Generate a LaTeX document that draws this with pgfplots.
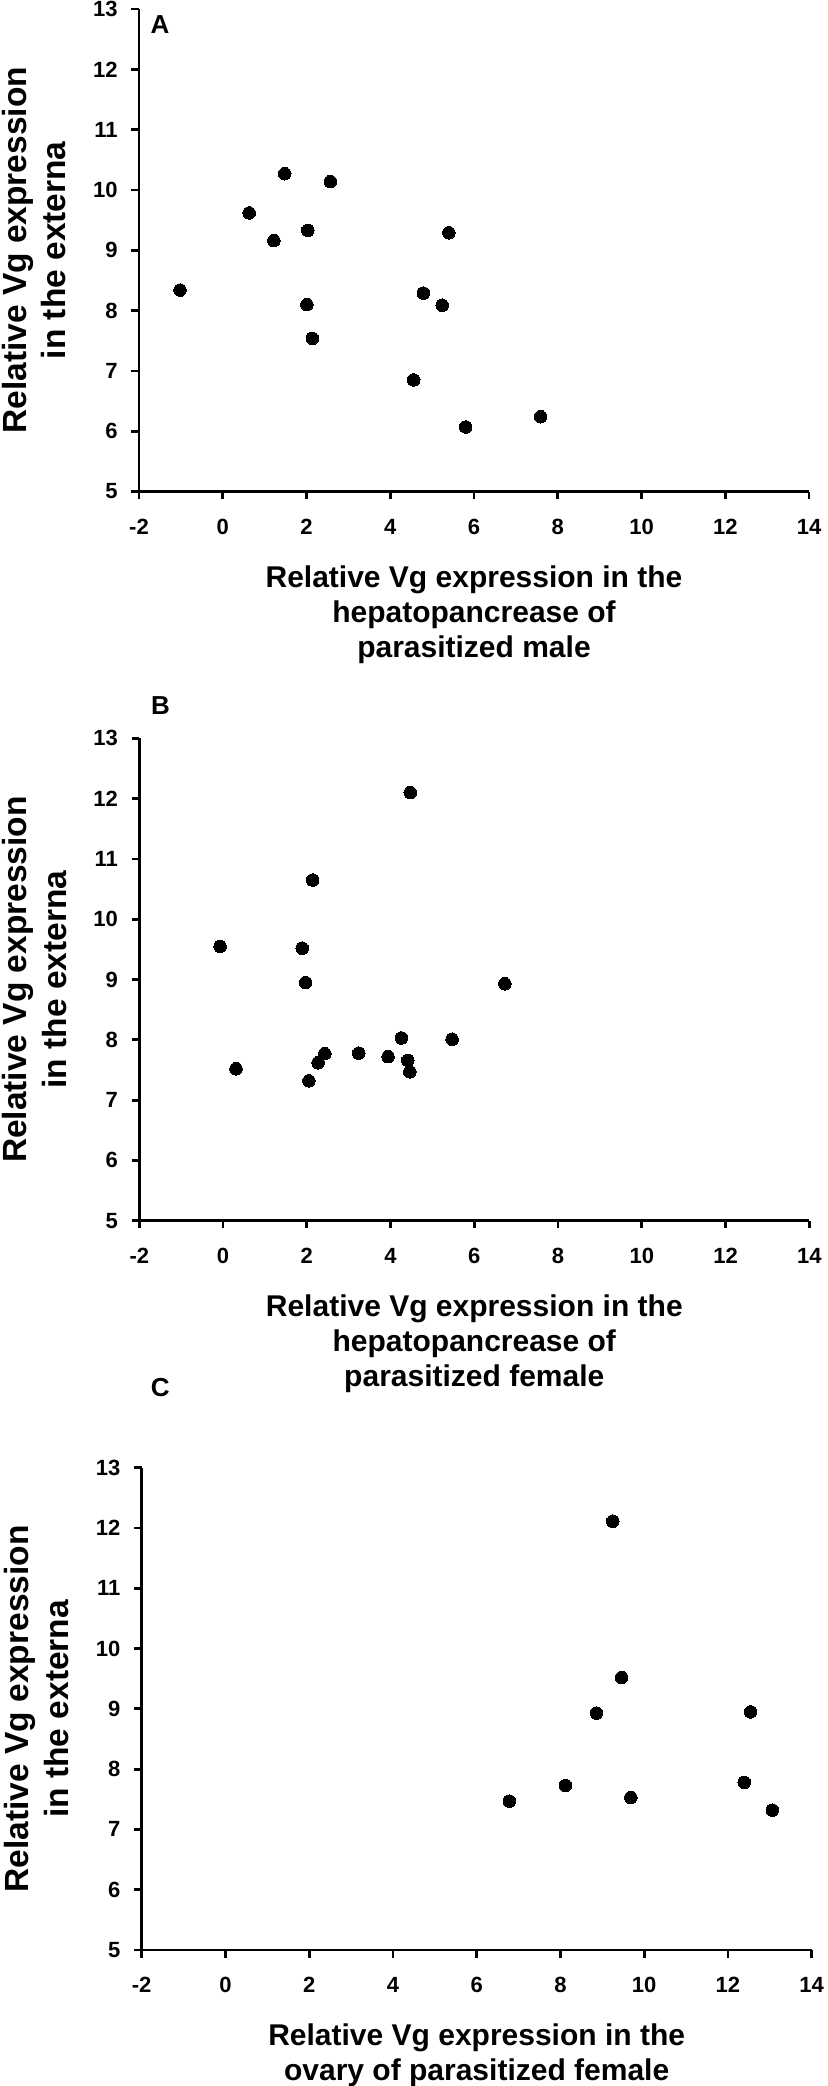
\documentclass[border=0pt]{standalone}
\usepackage{fontspec}
\setmainfont{Liberation Sans}
\usepackage{pgfplots}
\pgfplotsset{compat=1.18}

\pgfplotsset{
  vgstyle/.style={
    scale only axis, width=335pt, height=241.2pt,
    xmin=-2, xmax=14, ymin=5, ymax=13,
    xtick={-2,0,...,14}, ytick={5,6,...,13},
    axis x line*=bottom, axis y line*=left,
    axis line style={-, line width=1.4pt, black},
    tick align=outside, major tick length=3.85pt,
    tick style={line width=1.4pt, black},
    minor tick num=0,
    /pgf/number format/assume math mode=true,
    ticklabel style={font=\fontsize{11}{13}\selectfont\bfseries},
    yticklabel style={anchor=east, inner sep=0pt, xshift=-6.65pt},
    xticklabel style={anchor=north, inner sep=0pt, yshift=-9.65pt},
    every axis x label/.style={at={(axis description cs:0.5,-0.153)}, anchor=north, inner sep=0pt, align=center, font=\fontsize{15}{17.5}\selectfont\bfseries},
    every axis y label/.style={at={(axis description cs:-0.1083,0.5)}, anchor=south, rotate=90, inner sep=0pt, align=center, font=\fontsize{16.75}{19.75}\selectfont\bfseries},
    clip=false,
  },
  vgmarks/.style={only marks, mark=*, mark size=3.15pt, mark options={fill=black, draw=black, line width=0pt}},
}

\begin{document}
\begin{tikzpicture}
\path[use as bounding box] (0pt,0pt) rectangle (413.5pt,-1043pt);

% Panel A
\begin{axis}[vgstyle, at={(69.5pt,-245.75pt)}, anchor=south west,
  xlabel={Relative Vg expression in the\\hepatopancrease of\\parasitized male},
  ylabel={Relative Vg expression\\in the externa}]
\addplot[vgmarks] table {
x y
-1.02 8.34
0.63 9.62
1.22 9.16
1.48 10.27
2.57 10.14
2.03 9.33
2.01 8.10
2.14 7.54
4.79 8.29
5.24 8.09
4.56 6.85
5.40 9.29
5.80 6.07
7.59 6.24
};
\node[font=\fontsize{13}{15}\selectfont\bfseries, inner sep=0pt] at (axis description cs:0.0313,0.9685) {A};
\end{axis}

% Panel B
\begin{axis}[vgstyle, at={(69.65pt,-610.35pt)}, anchor=south west,
  xlabel={Relative Vg expression in the\\hepatopancrease of\\parasitized female},
  ylabel={Relative Vg expression\\in the externa}]
\addplot[vgmarks] table {
x y
-0.07 9.55
0.31 7.52
1.89 9.52
1.97 8.95
2.14 10.65
2.05 7.32
2.27 7.62
2.43 7.77
3.24 7.78
3.94 7.72
4.26 8.03
4.41 7.66
4.46 7.47
4.47 12.10
5.47 8.01
6.73 8.93
};
\node[font=\fontsize{13}{15}\selectfont\bfseries, inner sep=0pt] at (axis description cs:0.0316,1.067) {B};
\end{axis}

% Panel C
\begin{axis}[vgstyle, at={(70.85pt,-975pt)}, anchor=south west,
  xlabel={Relative Vg expression in the\\ovary of parasitized female},
  ylabel={Relative Vg expression\\in the externa}]
\addplot[vgmarks] table {
x y
9.25 12.11
9.46 9.52
8.86 8.93
12.54 8.95
8.12 7.73
6.78 7.47
9.68 7.53
12.39 7.78
13.06 7.32
};
\node[font=\fontsize{13}{15}\selectfont\bfseries, inner sep=0pt] at (axis description cs:0.0278,1.1665) {C};
\end{axis}
\end{tikzpicture}
\end{document}
